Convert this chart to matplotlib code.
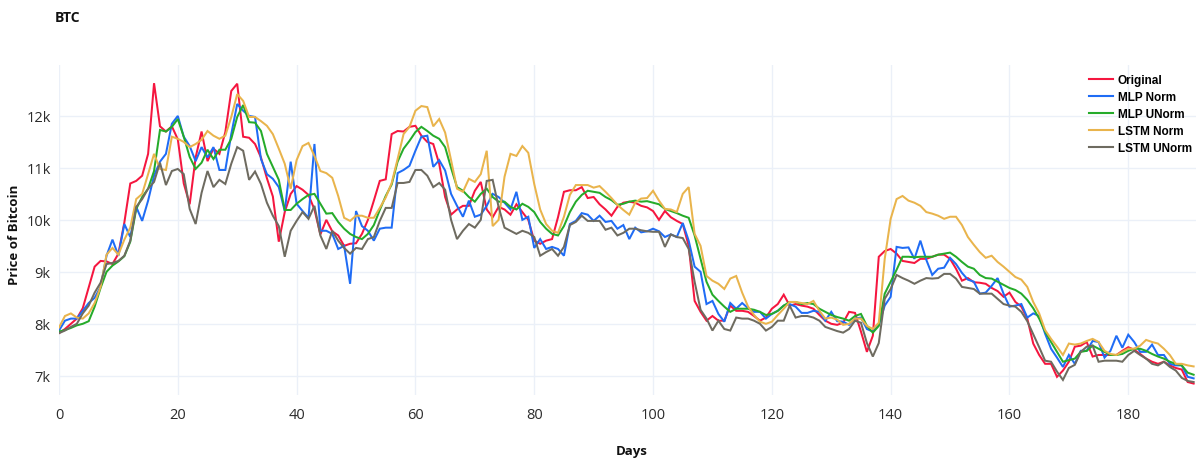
import numpy as np
import matplotlib
matplotlib.use("Agg")
import matplotlib.pyplot as plt
from matplotlib.ticker import FuncFormatter, MultipleLocator

# Prices in thousands of USD, one value per day
original = [7.82, 7.9, 8.0, 8.1, 8.3, 8.7, 9.1, 9.21, 9.2, 9.15,
            9.35, 9.95, 10.7, 10.75, 10.85, 11.27, 12.63, 11.8, 11.7, 11.8,
            11.55, 10.7, 10.3, 11.2, 11.7, 11.13, 11.37, 11.27, 11.69, 12.48,
            12.62, 11.6, 11.58, 11.46, 11.2, 10.8, 10.45, 9.58, 10.15, 10.5,
            10.65, 10.58, 10.48, 10.2, 9.72, 10.0, 9.78, 9.7, 9.5, 9.54,
            9.55, 9.73, 10.0, 10.37, 10.75, 10.78, 11.65, 11.71, 11.7, 11.79,
            11.81, 11.62, 11.5, 11.46, 11.08, 10.44, 10.1, 10.2, 10.27, 10.27,
            10.56, 10.73, 10.2, 10.05, 10.25, 10.2, 10.1, 10.3, 10.15, 10.0,
            9.6, 9.54, 9.6, 9.63, 10.05, 10.54, 10.57, 10.57, 10.63, 10.42,
            10.44, 10.3, 10.2, 10.08, 10.25, 10.33, 10.35, 10.33, 10.27, 10.24,
            10.17, 10.0, 10.17, 10.05, 9.98, 9.92, 9.5, 8.44, 8.23, 8.06,
            8.15, 8.06, 8.06, 8.35, 8.25, 8.25, 8.23, 8.15, 8.06, 8.12,
            8.29, 8.38, 8.56, 8.35, 8.38, 8.35, 8.33, 8.29, 8.17, 8.06,
            8.0, 7.98, 8.02, 8.23, 8.21, 7.85, 7.46, 7.77, 9.29, 9.4,
            9.44, 9.35, 9.21, 9.19, 9.17, 9.25, 9.25, 9.29, 9.33, 9.33,
            9.25, 9.06, 8.83, 8.88, 8.8, 8.79, 8.77, 8.69, 8.63, 8.52,
            8.6, 8.42, 8.33, 8.1, 7.62, 7.4, 7.23, 7.23, 6.98, 7.1,
            7.27, 7.56, 7.58, 7.65, 7.37, 7.4, 7.4, 7.4, 7.4, 7.48,
            7.55, 7.5, 7.42, 7.33, 7.27, 7.23, 7.27, 7.2, 7.15, 7.12,
            6.88, 6.85]

mlp_norm = [7.87, 8.06, 8.1, 8.1, 8.25, 8.4, 8.5, 8.71, 9.31, 9.62,
            9.31, 9.92, 9.67, 10.25, 9.98, 10.37, 10.85, 11.12, 11.27, 11.85,
            12.0, 11.6, 11.42, 11.13, 11.4, 11.2, 11.4, 10.96, 10.96, 11.65,
            12.23, 12.1, 12.0, 11.98, 11.17, 10.88, 10.79, 10.63, 10.17, 11.12,
            10.31, 10.17, 10.04, 11.46, 9.79, 9.79, 9.73, 9.44, 9.5, 8.77,
            10.17, 9.88, 9.79, 9.6, 9.83, 9.85, 9.85, 10.9, 10.96, 11.04,
            11.33, 11.6, 11.62, 11.02, 11.15, 10.95, 10.5, 10.27, 10.06, 10.37,
            10.06, 10.1, 10.27, 10.5, 10.44, 10.33, 10.2, 10.54, 10.0, 10.06,
            9.46, 9.63, 9.44, 9.48, 9.44, 9.31, 9.92, 9.98, 10.13, 10.1,
            9.98, 10.08, 9.96, 9.98, 9.83, 9.9, 9.63, 9.85, 9.76, 9.78,
            9.83, 9.78, 9.67, 9.72, 9.67, 9.94, 9.6, 9.1, 9.0, 8.38,
            8.44, 8.19, 8.04, 8.4, 8.29, 8.4, 8.3, 8.23, 8.23, 8.1,
            8.19, 8.25, 8.35, 8.38, 8.33, 8.21, 8.21, 8.25, 8.23, 8.06,
            8.23, 8.05, 8.04, 7.98, 8.1, 8.12, 7.9, 7.85, 7.98, 8.35,
            8.52, 9.48, 9.46, 9.47, 9.25, 9.6, 9.23, 8.94, 9.06, 9.08,
            9.27, 9.15, 8.98, 8.85, 8.81, 8.58, 8.6, 8.73, 8.88, 8.58,
            8.33, 8.35, 8.38, 8.12, 8.2, 8.15, 7.81, 7.52, 7.35, 7.17,
            7.4, 7.23, 7.48, 7.48, 7.67, 7.65, 7.35, 7.48, 7.77, 7.54,
            7.79, 7.65, 7.46, 7.46, 7.6, 7.4, 7.4, 7.23, 7.2, 7.2,
            6.98, 6.95]

mlp_unorm = [7.85, 7.88, 7.92, 7.97, 8.0, 8.05, 8.33, 8.69, 9.0, 9.12,
             9.2, 9.3, 9.58, 10.21, 10.44, 10.6, 10.94, 11.73, 11.7, 11.79,
             11.94, 11.6, 11.21, 10.98, 11.1, 11.35, 11.17, 11.35, 11.35, 11.56,
             11.98, 12.21, 11.88, 11.87, 11.71, 11.27, 11.02, 10.77, 10.19, 10.19,
             10.31, 10.4, 10.48, 10.5, 10.31, 10.12, 10.13, 9.96, 9.83, 9.73,
             9.67, 9.63, 9.73, 9.9, 10.19, 10.46, 10.68, 11.12, 11.37, 11.52,
             11.69, 11.79, 11.71, 11.62, 11.56, 11.4, 11.0, 10.63, 10.56, 10.44,
             10.35, 10.5, 10.6, 10.44, 10.35, 10.35, 10.25, 10.2, 10.31, 10.25,
             10.15, 9.96, 9.83, 9.73, 9.7, 9.88, 10.15, 10.35, 10.48, 10.56,
             10.54, 10.52, 10.44, 10.38, 10.29, 10.31, 10.35, 10.37, 10.35, 10.36,
             10.33, 10.3, 10.21, 10.17, 10.13, 10.08, 10.04, 9.7, 9.25, 8.81,
             8.56, 8.44, 8.33, 8.23, 8.29, 8.29, 8.29, 8.27, 8.23, 8.17,
             8.19, 8.25, 8.35, 8.42, 8.42, 8.38, 8.4, 8.38, 8.29, 8.23,
             8.17, 8.13, 8.1, 8.06, 8.15, 8.19, 7.96, 7.83, 7.96, 8.58,
             8.81, 9.04, 9.29, 9.29, 9.28, 9.29, 9.29, 9.29, 9.33, 9.35,
             9.37, 9.29, 9.19, 9.1, 9.06, 8.94, 8.88, 8.87, 8.81, 8.75,
             8.69, 8.65, 8.58, 8.46, 8.3, 8.1, 7.85, 7.65, 7.46, 7.27,
             7.3, 7.33, 7.46, 7.48, 7.58, 7.52, 7.46, 7.4, 7.4, 7.42,
             7.48, 7.52, 7.52, 7.48, 7.42, 7.37, 7.33, 7.27, 7.23, 7.2,
             7.06, 7.02]

lstm_norm = [7.93, 8.15, 8.2, 8.12, 8.1, 8.2, 8.4, 8.71, 9.33, 9.46,
             9.33, 9.62, 9.85, 10.4, 10.5, 10.88, 11.27, 10.98, 10.96, 11.6,
             11.56, 11.5, 11.4, 11.46, 11.54, 11.71, 11.62, 11.56, 11.62, 11.98,
             12.42, 12.29, 11.98, 11.98, 11.9, 11.81, 11.65, 11.37, 11.08, 10.6,
             11.15, 11.42, 11.48, 11.23, 10.94, 10.9, 10.81, 10.46, 10.04, 9.98,
             10.08, 10.08, 10.04, 10.04, 10.23, 10.43, 10.71, 11.17, 11.65, 11.79,
             12.1, 12.19, 12.17, 11.8, 11.94, 11.68, 11.15, 10.6, 10.54, 10.79,
             10.73, 10.88, 11.33, 9.88, 10.0, 10.83, 11.27, 11.23, 11.42, 11.29,
             10.69, 10.2, 9.92, 9.79, 9.75, 10.06, 10.48, 10.67, 10.67, 10.67,
             10.62, 10.65, 10.54, 10.42, 10.29, 10.19, 10.1, 10.33, 10.41, 10.42,
             10.56, 10.37, 10.21, 10.2, 10.15, 10.5, 10.63, 9.73, 9.5, 8.92,
             8.83, 8.77, 8.67, 8.87, 8.92, 8.6, 8.33, 8.17, 8.04, 8.0,
             8.04, 8.17, 8.29, 8.42, 8.42, 8.4, 8.38, 8.44, 8.25, 8.1,
             8.12, 8.08, 7.98, 8.0, 8.1, 8.1, 7.96, 7.9, 8.02, 9.25,
             10.02, 10.4, 10.46, 10.37, 10.33, 10.27, 10.15, 10.12, 10.08, 10.02,
             10.06, 10.06, 9.9, 9.67, 9.52, 9.38, 9.27, 9.31, 9.19, 9.1,
             9.0, 8.9, 8.85, 8.71, 8.42, 8.2, 7.88, 7.71, 7.56, 7.4,
             7.62, 7.6, 7.62, 7.67, 7.71, 7.65, 7.48, 7.42, 7.4, 7.46,
             7.52, 7.52, 7.58, 7.69, 7.65, 7.62, 7.52, 7.4, 7.23, 7.23,
             7.2, 7.18]

lstm_unorm = [7.82, 7.87, 7.94, 8.0, 8.2, 8.35, 8.6, 8.79, 9.15, 9.17,
              9.21, 9.31, 9.6, 10.25, 10.4, 10.6, 10.73, 11.1, 10.67, 10.94,
              10.98, 10.88, 10.21, 9.92, 10.52, 10.94, 10.63, 10.77, 10.69, 11.08,
              11.4, 11.33, 10.77, 10.93, 10.69, 10.33, 10.08, 9.88, 9.29, 9.79,
              9.98, 10.15, 10.02, 10.27, 9.7, 9.44, 9.79, 9.6, 9.46, 9.35,
              9.46, 9.44, 9.63, 9.67, 9.98, 10.23, 10.23, 10.71, 10.71, 10.73,
              10.96, 10.96, 10.85, 10.63, 10.71, 10.58, 10.0, 9.63, 9.79, 9.92,
              9.85, 10.0, 10.75, 10.77, 10.25, 9.85, 9.79, 9.73, 9.79, 9.75,
              9.67, 9.31, 9.38, 9.44, 9.31, 9.48, 9.9, 9.96, 10.08, 9.98,
              9.98, 9.98, 9.81, 9.85, 9.7, 9.75, 9.83, 9.83, 9.8, 9.78,
              9.77, 9.77, 9.48, 9.72, 9.67, 9.65, 9.44, 8.81, 8.27, 8.1,
              7.87, 8.06, 7.9, 7.87, 8.12, 8.1, 8.1, 8.06, 8.0, 7.87,
              7.94, 8.06, 8.06, 8.35, 8.12, 8.15, 8.15, 8.12, 8.06, 7.94,
              7.9, 7.86, 7.83, 7.9, 8.06, 8.02, 7.63, 7.37, 7.63, 8.48,
              8.67, 8.94, 8.88, 8.83, 8.77, 8.83, 8.88, 8.87, 8.88, 8.96,
              8.96, 8.87, 8.71, 8.69, 8.67, 8.58, 8.58, 8.58, 8.48, 8.38,
              8.35, 8.33, 8.23, 8.05, 7.8, 7.55, 7.29, 7.27, 7.08, 6.92,
              7.15, 7.21, 7.46, 7.56, 7.58, 7.27, 7.29, 7.29, 7.29, 7.27,
              7.4, 7.48, 7.4, 7.33, 7.23, 7.2, 7.27, 7.17, 7.1, 6.96,
              6.9, 6.88]

series_names = ["Original", "MLP Norm", "MLP UNorm", "LSTM Norm", "LSTM UNorm"]
series_colors = ["#f5163f", "#1f6cf5", "#25ab2a", "#e9b44c", "#6e6b60"]
x_ticks = [0, 20, 40, 60, 80, 100, 120, 140, 160, 180]

W, H = 1196, 460
fig = plt.figure(figsize=(W / 100, H / 100), dpi=100)
ax = fig.add_axes([59 / W, (H - 396) / H, (W - 59) / W, (396 - 66) / H])

days = np.arange(len(original))
all_series = [original, mlp_norm, mlp_unorm, lstm_norm, lstm_unorm]
for vals, name, col in zip(all_series, series_names, series_colors):
    ax.plot(days, np.array(vals) * 1000, color=col, lw=1.45, label=name,
            solid_joinstyle="miter")

ax.set_xlim(0, 191.4)
ax.set_ylim(6630, 12980)
ax.set_xticks(x_ticks)
ax.yaxis.set_major_locator(MultipleLocator(1000))
ax.yaxis.set_major_formatter(FuncFormatter(lambda v, p: f"{v/1000:g}k"))

for s in ax.spines.values():
    s.set_visible(False)
ax.grid(True, color="#ebf0f8", lw=1.0)
ax.set_axisbelow(True)
ax.tick_params(length=0, labelsize=10.5, labelcolor="#2b2b2b")
ax.tick_params(axis="y", pad=6)
ax.tick_params(axis="x", pad=9)
for lab in ax.get_xticklabels() + ax.get_yticklabels():
    lab.set_family(["Open Sans", "DejaVu Sans"])

fig.text(55 / W, 1 - 18 / H, "BTC", fontsize=10, fontweight="bold",
         family=["Open Sans", "DejaVu Sans"], va="center", ha="left", color="#111111")
fig.text(15 / W, 1 - 235 / H, "Price of Bitcoin", rotation=90, fontsize=9.5,
         fontweight="bold", family=["Open Sans", "DejaVu Sans"],
         va="center", ha="center", color="#111111")
fig.text(632 / W, 1 - 452 / H, "Days", fontsize=9.5, fontweight="bold",
         family=["Open Sans", "DejaVu Sans"], va="center", ha="center", color="#111111")

leg = fig.legend(loc="upper left", bbox_to_anchor=(1089 / W, 1 - 75 / H),
                 frameon=False, prop={"family": ["Liberation Sans", "DejaVu Sans"],
                                      "weight": "bold", "size": 8.5},
                 handlelength=2.0, handletextpad=0.45, labelspacing=0.42,
                 borderaxespad=0, borderpad=0)
for line in leg.get_lines():
    line.set_linewidth(1.5)

fig.savefig("out.png", dpi=100)
